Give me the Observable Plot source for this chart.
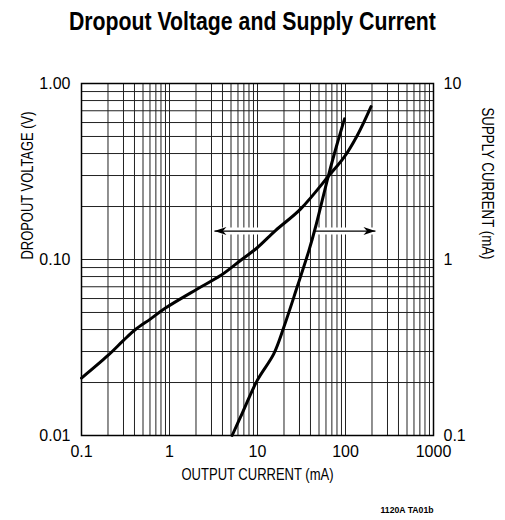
<!DOCTYPE html>
<html>
<head>
<meta charset="utf-8">
<script src="https://cdn.jsdelivr.net/npm/d3@7"></script>
<script src="https://cdn.jsdelivr.net/npm/@observablehq/plot@0.6"></script>
<style>
  body { margin: 0; background: white; }
  #wrap { position: relative; width: 505px; height: 520px; background: white; overflow: hidden; }
  #title { position: absolute; top: 6px; left: 0; width: 505px; text-align: center; white-space: nowrap; }
  #title span { display: inline-block; transform-origin: 50% 50%;
    font-family: "Liberation Sans", Arial, Helvetica, sans-serif;
    font-weight: bold; font-size: 26px; line-height: 30px; color: #000; }
  #chart { position: absolute; top: 50px; left: 0; }
</style>
</head>
<body>
<div id="wrap">
  <div id="title"><span>Dropout Voltage and Supply Current</span></div>
  <div id="chart"></div>
</div>
<script>
// Dropout voltage (left axis, V) vs output current (mA)
const dropoutCurrent = [0.1, 0.2, 0.3, 0.41, 0.61, 0.9, 2.07, 3.8, 6.4, 10, 16, 31, 65, 96, 136, 195];
const dropoutVoltage = [0.0212, 0.0285, 0.0347, 0.0400, 0.0460, 0.0530, 0.068, 0.081, 0.0987, 0.117, 0.146, 0.194, 0.30, 0.38, 0.507, 0.74];

// Supply current (right axis, mA) vs output current (mA)
const supplyOutCurrent = [5.15, 6.4, 9.9, 15.3, 19.9, 28.2, 38.3, 46, 64, 80, 97.5];
const supplyCurrent = [0.1, 0.127, 0.205, 0.291, 0.412, 0.697, 1.12, 1.55, 3.0, 4.5, 6.3];

// Arrows (output current mA, dropout-scale level)
const arrowFrom = [15.5, 45];
const arrowTo = [3.24, 219];
const arrowLevel = [0.145, 0.145];
const arrowAngle = [180, 0];

// Tick labels
const xTicks = [0.1, 1, 10, 100, 1000];
const xTickLabels = ["0.1", "1", "10", "100", "1000"];
const yLeftTicks = [0.01, 0.1, 1];
const yLeftLabels = ["0.01", "0.10", "1.00"];
const yRightLabels = ["0.1", "1", "10"];

// Right axis (mA) maps onto left scale: 0.1 mA -> 0.01, 10 mA -> 1
const rightFactor = 10;

const dropout = dropoutCurrent.map((x, i) => ({x, y: dropoutVoltage[i]}));
const supply = supplyOutCurrent.map((x, i) => ({x, i: supplyCurrent[i]}));
const arrows = arrowFrom.map((x1, k) => ({x1, x2: arrowTo[k], y: arrowLevel[k], a: arrowAngle[k]}));

const xGrid = d3.scaleLog().domain([0.1, 1000]).ticks();
const yGrid = d3.scaleLog().domain([0.01, 1]).ticks();

const arrowHead = {
  draw(ctx) {
    ctx.moveTo(0, 0);
    ctx.lineTo(-12, -4);
    ctx.lineTo(-8.5, 0);
    ctx.lineTo(-12, 4);
    ctx.closePath();
  }
};

const tickFont = "'Liberation Sans', Arial, Helvetica, sans-serif";

const chart = Plot.plot({
  width: 505,
  height: 470,
  marginLeft: 81,
  marginRight: 72,
  marginTop: 33,
  marginBottom: 85,
  x: {type: "log", domain: [0.1, 1000]},
  y: {type: "log", domain: [0.01, 1]},
  style: {fontFamily: tickFont, background: "white", color: "black"},
  marks: [
    Plot.gridX(xGrid, {stroke: "#222", strokeOpacity: 1, strokeWidth: 1}),
    Plot.gridY(yGrid, {stroke: "#222", strokeOpacity: 1, strokeWidth: 1}),
    Plot.frame({stroke: "black", strokeWidth: 1.5}),
    Plot.axisX({ticks: xTicks, tickSize: 0, tickPadding: 10, fontSize: 16, label: null,
      tickFormat: d => xTickLabels[xTicks.indexOf(d)]}),
    Plot.axisY({ticks: yLeftTicks, anchor: "left", tickSize: 0, tickPadding: 11, fontSize: 16, label: null,
      tickFormat: d => yLeftLabels[yLeftTicks.indexOf(d)]}),
    Plot.axisY({ticks: yLeftTicks, anchor: "right", tickSize: 0, tickPadding: 10, fontSize: 16, label: null,
      tickFormat: d => yRightLabels[yLeftTicks.indexOf(d)]}),
    Plot.link(arrows, {x1: "x1", x2: "x2", y1: "y", y2: "y", stroke: "white", strokeWidth: 7}),
    Plot.link(arrows, {x1: "x1", x2: "x2", y1: "y", y2: "y", stroke: "black", strokeWidth: 1.3}),
    Plot.dot(arrows, {x: "x2", y: "y", symbol: arrowHead, rotate: "a", fill: "black", stroke: null, r: 5}),
    Plot.line(dropout, {x: "x", y: "y", stroke: "black", strokeWidth: 3, curve: "catmull-rom"}),
    Plot.line(supply, {x: "x", y: d => d.i / rightFactor, stroke: "black", strokeWidth: 3, curve: "catmull-rom"}),
    Plot.text(["DROPOUT VOLTAGE (V)"], {frameAnchor: "left", dx: -54, rotate: -90, fontSize: 17,
      lineAnchor: "middle", className: "ttl"}),
    Plot.text(["SUPPLY CURRENT (mA)"], {frameAnchor: "right", dx: 54, rotate: 90, fontSize: 17,
      lineAnchor: "middle", className: "ttr"}),
    Plot.text(["OUTPUT CURRENT (mA)"], {frameAnchor: "bottom", dy: 39, fontSize: 17,
      lineAnchor: "middle", className: "ttb"}),
    Plot.text(["1120A TA01b"], {frameAnchor: "bottom-right", dy: 75, textAnchor: "end", fontSize: 9,
      fontWeight: "bold", lineAnchor: "middle", className: "ttf"})
  ]
});
document.getElementById("chart").appendChild(chart);

// condense the axis titles like the reference's narrow typeface
const condense = (cls, len) => {
  d3.select(chart).selectAll(`g.${cls} text`)
    .attr("textLength", len).attr("lengthAdjust", "spacingAndGlyphs");
};
condense("ttl", 148);
condense("ttr", 152);
condense("ttb", 152);
condense("ttf", 53);

// condense the title
const span = document.querySelector("#title span");
const w = span.getBoundingClientRect().width;
span.style.transform = `scaleX(${367 / w})`;
</script>
</body>
</html>
